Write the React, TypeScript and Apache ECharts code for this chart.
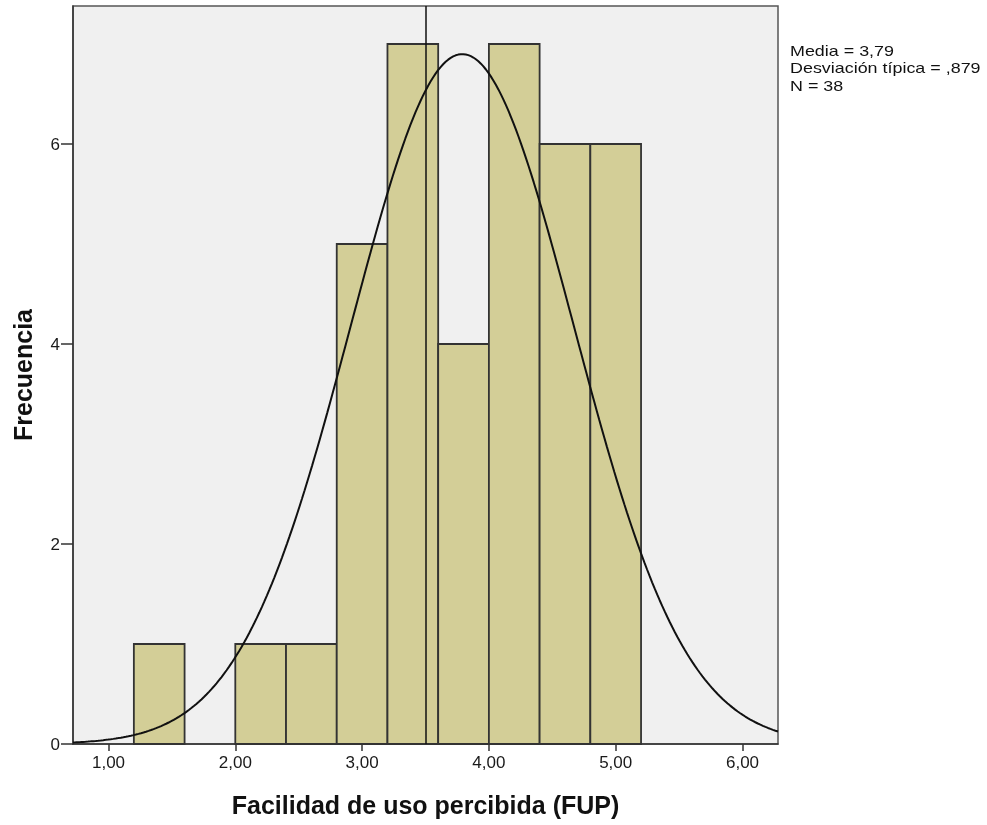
import React, { useEffect, useRef } from "react";
import * as echarts from "echarts";

// Histogram bins (lower edge, upper edge) and frequencies
const BIN_LOWER = [1.2, 2.0, 2.4, 2.8, 3.2, 3.6, 4.0, 4.4, 4.8];
const BIN_UPPER = [1.6, 2.4, 2.8, 3.2, 3.6, 4.0, 4.4, 4.8, 5.2];
const COUNTS = [1, 1, 1, 5, 7, 4, 7, 6, 6];

// Summary statistics shown in the legend (normal curve is defined by them)
const MEAN = 3.79;
const SD = 0.879;
const N = 38;
const BIN_WIDTH = 0.4;
const REF_LINE_X = 3.5;

const X_TICKS = [1, 2, 3, 4, 5, 6];
const Y_TICKS = [0, 2, 4, 6];
const X_MIN = 0.72;
const X_MAX = 6.28;
const Y_MAX = 7.38;

const LEGEND_LINES = ["Media = 3,79", "Desviación típica = ,879", "N = 38"];
const X_TITLE = "Facilidad de uso percibida (FUP)";
const Y_TITLE = "Frecuencia";

const FONT = "'Liberation Sans', Arial, sans-serif";

export default function App() {
  const ref = useRef<HTMLDivElement>(null);
  useEffect(() => {
    if (!ref.current) return;
    const chart = echarts.init(ref.current, null, { renderer: "svg" });

    const bins = BIN_LOWER.map((lo, i) => [lo, BIN_UPPER[i], COUNTS[i]]);
    const curve: number[][] = [];
    const steps = 280;
    for (let i = 0; i <= steps; i++) {
      const x = X_MIN + ((X_MAX - X_MIN) * i) / steps;
      const z = (x - MEAN) / SD;
      const y = (N * BIN_WIDTH) / (SD * Math.sqrt(2 * Math.PI)) * Math.exp(-0.5 * z * z);
      curve.push([x, y]);
    }

    chart.setOption({
      animation: false,
      grid: {
        left: 73,
        right: 209,
        top: 6,
        bottom: 81,
        show: true,
        backgroundColor: "#f0f0f0",
        borderColor: "#555",
        borderWidth: 1.5,
      },
      xAxis: {
        type: "value",
        min: X_MIN,
        max: X_MAX,
        name: X_TITLE,
        nameLocation: "middle",
        nameGap: 48,
        nameTextStyle: { fontFamily: FONT, fontSize: 25, fontWeight: "bold", color: "#111" },
        splitLine: { show: false },
        axisLine: { show: true, lineStyle: { color: "#333", width: 1.5 } },
        axisTick: { show: true, length: 7, customValues: X_TICKS, lineStyle: { color: "#333", width: 1.5 } },
        axisLabel: {
          customValues: X_TICKS,
          margin: 10,
          fontFamily: FONT,
          fontSize: 17,
          color: "#1a1a1a",
          formatter: (v: number) => v.toFixed(2).replace(".", ","),
        },
      },
      yAxis: {
        type: "value",
        min: 0,
        max: Y_MAX,
        name: Y_TITLE,
        nameLocation: "middle",
        nameGap: 38,
        nameRotate: 90,
        nameTextStyle: { fontFamily: FONT, fontSize: 25, fontWeight: "bold", color: "#111" },
        splitLine: { show: false },
        axisLine: { show: true, lineStyle: { color: "#333", width: 1.5 } },
        axisTick: { show: true, length: 12, customValues: Y_TICKS, lineStyle: { color: "#333", width: 1.5 } },
        axisLabel: {
          customValues: Y_TICKS,
          margin: 13,
          fontFamily: FONT,
          fontSize: 17,
          color: "#1a1a1a",
        },
      },
      series: [
        {
          type: "custom",
          data: bins,
          encode: { x: [0, 1], y: 2 },
          renderItem: (params: any, api: any) => {
            const p0 = api.coord([api.value(0), api.value(2)]);
            const p1 = api.coord([api.value(1), 0]);
            return {
              type: "rect",
              shape: { x: p0[0], y: p0[1], width: p1[0] - p0[0], height: p1[1] - p0[1] },
              style: { fill: "#d3ce97", stroke: "#333", lineWidth: 1.8 },
            };
          },
          z: 2,
        },
        {
          type: "line",
          data: curve,
          showSymbol: false,
          symbol: "none",
          lineStyle: { color: "#111", width: 2 },
          z: 3,
          markLine: {
            silent: true,
            symbol: "none",
            label: { show: false },
            lineStyle: { color: "#111", width: 1.5, type: "solid" },
            data: [{ xAxis: REF_LINE_X }],
          },
        },
      ],
      graphic: [
        {
          type: "text",
          x: 790,
          y: 42,
          scaleX: 1.28,
          style: {
            text: LEGEND_LINES.join("\n"),
            fontFamily: FONT,
            fontSize: 14,
            lineHeight: 17.5,
            fill: "#111",
          },
        },
      ],
    });
    return () => chart.dispose();
  }, []);

  return (
    <div
      ref={ref}
      style={{ position: "fixed", left: 0, top: 0, width: 987, height: 825 }}
    />
  );
}
